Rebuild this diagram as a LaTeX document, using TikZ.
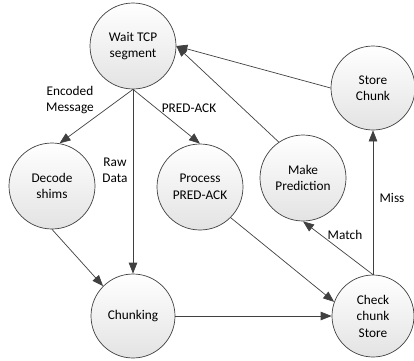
\documentclass[tikz,border=0pt]{standalone}
\usepackage{fontspec}
\setmainfont{Carlito}
\usetikzlibrary{arrows.meta}
\definecolor{linec}{HTML}{404040}
\tikzset{
  state/.style={circle, draw=linec, line width=0.7pt, minimum size=#1, inner sep=0pt,
    align=center, top color=white, bottom color=black!11, font=\fontsize{13.3}{16.5}\selectfont},
  state/.default=85pt,
  conn/.style={draw=linec, line width=0.7pt, -{Triangle[length=11pt,width=8.5pt]}},
  lbl/.style={align=center, inner sep=0pt, font=\fontsize{13.3}{16}\selectfont}
}
\begin{document}
\begin{tikzpicture}[x=1pt,y=-1pt]
\useasboundingbox (0,0) rectangle (414,360);
\node[state=86pt] (wait) at (133,46) {Wait TCP\\segment};
\node[state=86pt] (decode) at (52,186) {Decode\\shims};
\node[state=86pt] (process) at (200,187) {Process\\PRED-ACK};
\node[state=86pt] (make) at (303,178) {Make\\Prediction};
\node[state=84pt] (store) at (373,88) {Store\\Chunk};
\node[state=84pt] (chunk) at (133,316) {Chunking};
\node[state=82pt] (check) at (373,316) {Check\\chunk\\Store};

\draw[conn] (wait.south) -- (decode.80);
\draw[conn] (wait.south) -- (chunk.north);
\draw[conn] (wait.south) -- (process.north);
\draw[conn] (decode.south) -- (chunk.north west);
\draw[conn] (process.south east) -- (check.160);
\draw[conn] (chunk.east) -- (check.west);
\draw[conn] (check.north) -- (make.south);
\draw[conn] (check.north) -- (store.south);
\draw[conn] (make.124) -- (wait.east);
\draw[conn] (store.west) -- (wait.east);

\node[lbl] (l1) at (70,100) {Encoded\\Message};
\node[lbl] (l2) at (115,170) {Raw\\Data};
\node[lbl] (l3) at (189,108) {PRED-ACK};
\node[lbl] (l4) at (345,235) {Match};
\node[lbl] (l5) at (392,198) {Miss};
\end{tikzpicture}
\end{document}
